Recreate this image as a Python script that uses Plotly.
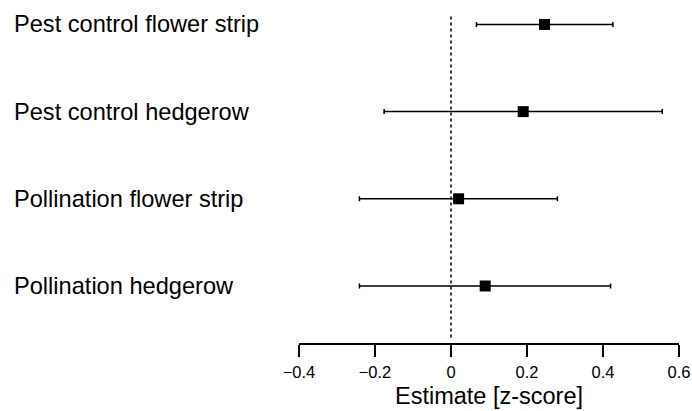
import plotly.graph_objects as go

categories = ["Pest control flower strip", "Pest control hedgerow",
              "Pollination flower strip", "Pollination hedgerow"]
estimates = [0.246, 0.190, 0.020, 0.090]
lower = [0.067, -0.176, -0.241, -0.241]
upper = [0.426, 0.556, 0.280, 0.420]
x_ticks = [-0.4, -0.2, 0, 0.2, 0.4, 0.6]
x_ticktext = ["\u22120.4", "\u22120.2", "0", "0.2", "0.4", "0.6"]

n = len(categories)
ypos = [n - i for i in range(n)]

FONT = "Liberation Sans, Arial, sans-serif"

fig = go.Figure()
fig.add_trace(go.Scatter(
    x=estimates, y=ypos, mode="markers",
    marker=dict(symbol="square", size=11, color="black"),
    error_x=dict(type="data", symmetric=False,
                 array=[u - e for u, e in zip(upper, estimates)],
                 arrayminus=[e - l for e, l in zip(estimates, lower)],
                 color="black", thickness=1.5, width=2.5),
    showlegend=False, hoverinfo="skip"))

fig.add_shape(type="line", x0=0, x1=0, y0=0.41, y1=4.11, xref="x", yref="y",
              line=dict(color="black", width=1.5, dash="3px,3px"), layer="below")

for cat, y in zip(categories, ypos):
    fig.add_annotation(x=-0.756, y=y, xref="paper", yref="y", text=cat,
                       showarrow=False, xanchor="left", yanchor="middle",
                       font=dict(family=FONT, size=23.6, color="black"))

fig.update_layout(
    width=692, height=411,
    margin=dict(l=299, r=13, t=5, b=68),
    plot_bgcolor="white", paper_bgcolor="white",
    font=dict(family=FONT, color="black"),
    xaxis=dict(range=[-0.4, 0.6], tickvals=x_ticks, ticktext=x_ticktext,
               showgrid=False, zeroline=False, showline=True,
               linecolor="black", linewidth=1.5, ticks="outside",
               ticklen=12, tickwidth=1.5, tickcolor="black",
               ticklabelstandoff=1, automargin=False,
               tickfont=dict(family=FONT, size=16.5, color="black"),
               title=dict(text="Estimate [z-score]", standoff=8,
                          font=dict(family=FONT, size=23.5, color="black"))),
    yaxis=dict(range=[0.346, 4.223], visible=False, showgrid=False,
               zeroline=False),
)

fig.write_html("out.html", config={"displayModeBar": False},
               post_script="document.body.style.margin='0';document.body.style.padding='0';")
